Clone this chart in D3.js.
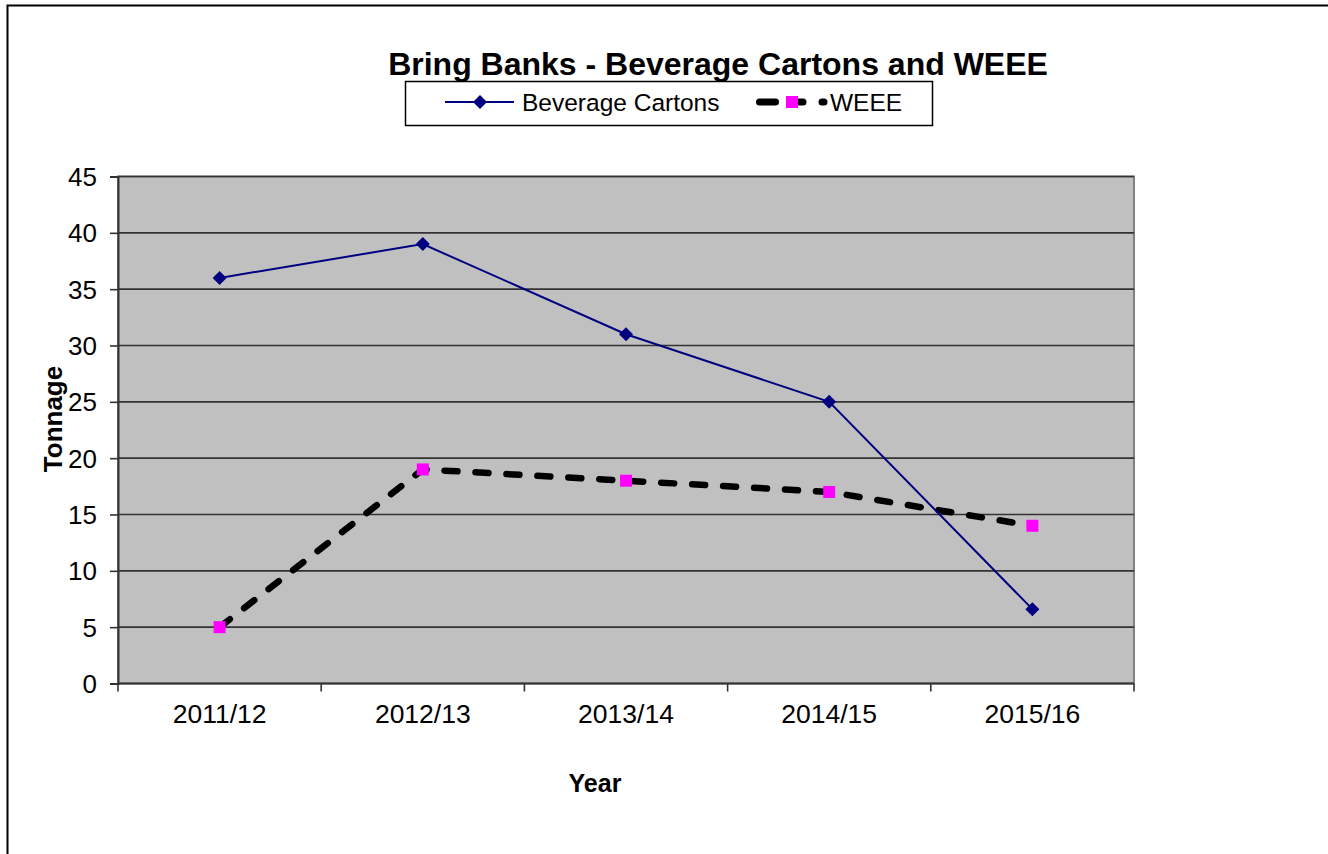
<!DOCTYPE html>
<html><head><meta charset="utf-8">
<script src="https://cdn.jsdelivr.net/npm/d3@7"></script>
<style>html,body{margin:0;padding:0;background:#fff;}svg{display:block;}</style>
</head><body>
<script>
const categories = ["2011/12","2012/13","2013/14","2014/15","2015/16"];
const beverageCartons = [36, 39, 31, 25, 6.6];
const weee = [5, 19, 18, 17, 14];
const yTicks = [0,5,10,15,20,25,30,35,40,45];
const seriesNames = ["Beverage Cartons","WEEE"];
const titleText = "Bring Banks - Beverage Cartons and WEEE";

const W = 1328, H = 854;
const plot = {left:118, right:1134, top:176.5, bottom:683.5};
const font = "Liberation Sans, Arial, sans-serif";

const svg = d3.select("body").append("svg").attr("width",W).attr("height",H);
svg.append("rect").attr("width",W).attr("height",H).attr("fill","#fff");

// outer border (top and left visible)
svg.append("path").attr("d","M7.5,854 L7.5,5.5 L1328,5.5").attr("fill","none").attr("stroke","#000").attr("stroke-width",2);

const x = d3.scaleBand().domain(categories).range([plot.left, plot.right]).padding(0);
const y = d3.scaleLinear().domain([0,45]).range([plot.bottom, plot.top]);

// plot area
svg.append("rect").attr("x",plot.left).attr("y",plot.top)
  .attr("width",plot.right-plot.left).attr("height",plot.bottom-plot.top)
  .attr("fill","#C0C0C0").attr("stroke","#808080").attr("stroke-width",2);

// gridlines
svg.append("g").selectAll("line").data(yTicks.filter(d=>d>0)).join("line")
  .attr("x1",plot.left).attr("x2",plot.right)
  .attr("y1",d=>y(d)).attr("y2",d=>y(d))
  .attr("stroke","#333").attr("stroke-width",1.6);

// y axis
const yAxis = d3.axisLeft(y).tickValues(yTicks).tickSize(8).tickPadding(13).tickFormat(d3.format("d"));
const gy = svg.append("g").attr("transform",`translate(${plot.left},0)`).call(yAxis);
gy.select(".domain").attr("stroke","#333").attr("stroke-width",2);
gy.selectAll(".tick line").attr("stroke","#333").attr("stroke-width",1.6);
gy.selectAll(".tick text").attr("font-family",font).attr("font-size",26).attr("fill","#000").attr("dy","0.35em");

// x axis: ticks at category boundaries
const gx = svg.append("g").attr("transform",`translate(0,${plot.bottom})`);
gx.append("line").attr("x1",plot.left).attr("x2",plot.right).attr("stroke","#333").attr("stroke-width",2);
const bounds = categories.map(c=>x(c)).concat([x(categories[categories.length-1])+x.bandwidth()]);
gx.selectAll("line.tk").data(bounds).join("line").attr("class","tk")
  .attr("x1",d=>d).attr("x2",d=>d).attr("y1",0).attr("y2",8)
  .attr("stroke","#333").attr("stroke-width",1.6);
gx.selectAll("text").data(categories).join("text")
  .attr("x",d=>x(d)+x.bandwidth()/2).attr("y",39.5)
  .attr("text-anchor","middle").attr("font-family",font).attr("font-size",26.5).attr("fill","#000")
  .text(d=>d);

// axis titles
svg.append("text").attr("transform","translate(62,419) rotate(-90)")
  .attr("text-anchor","middle").attr("font-family",font).attr("font-weight","bold")
  .attr("font-size",26).text("Tonnage");
svg.append("text").attr("x",595).attr("y",792)
  .attr("text-anchor","middle").attr("font-family",font).attr("font-weight","bold")
  .attr("font-size",25).text("Year");

// title
svg.append("text").attr("x",718).attr("y",75)
  .attr("text-anchor","middle").attr("font-family",font).attr("font-weight","bold")
  .attr("font-size",32).text(titleText);

// lines
const cx = d=>x(d)+x.bandwidth()/2;
const line = d3.line().x(d=>cx(d[0])).y(d=>y(d[1]));
const bevData = categories.map((c,i)=>[c,beverageCartons[i]]);
const weeeData = categories.map((c,i)=>[c,weee[i]]);

svg.append("path").attr("d",line(weeeData)).attr("fill","none")
  .attr("stroke","#000").attr("stroke-width",6.5).attr("stroke-linecap","round")
  .attr("stroke-dasharray","13,18");
svg.append("path").attr("d",line(bevData)).attr("fill","none")
  .attr("stroke","#000080").attr("stroke-width",2);

function drawDiamond(g, px, py){
  g.append("path").attr("d","M0,-7 L7,0 L0,7 L-7,0 Z").attr("transform",`translate(${px},${py})`).attr("fill","#000080");
}
bevData.forEach(d=>drawDiamond(svg, cx(d[0]), y(d[1])));
svg.append("g").selectAll("rect").data(weeeData).join("rect")
  .attr("x",d=>cx(d[0])-6).attr("y",d=>y(d[1])-6).attr("width",12).attr("height",12)
  .attr("fill","#FF00FF");

// legend
const lg = svg.append("g");
lg.append("rect").attr("x",405.5).attr("y",81.5).attr("width",527).attr("height",44)
  .attr("fill","#fff").attr("stroke","#000").attr("stroke-width",1.5);
lg.append("line").attr("x1",445).attr("x2",514).attr("y1",102).attr("y2",102).attr("stroke","#000080").attr("stroke-width",2);
drawDiamond(lg, 480, 102);
lg.append("text").attr("x",522).attr("y",111).attr("font-family",font).attr("font-size",24.5).text(seriesNames[0]);
lg.append("path").attr("d","M759.5,102 L775.5,102 M799,102 L803,102 M822,102 L824,102").attr("stroke","#000").attr("stroke-width",7)
  .attr("stroke-linecap","round").attr("fill","none");
lg.append("rect").attr("x",786).attr("y",96).attr("width",12).attr("height",12).attr("fill","#FF00FF");
lg.append("text").attr("x",830).attr("y",111).attr("font-family",font).attr("font-size",24.5).text(seriesNames[1]);
</script>
</body></html>
